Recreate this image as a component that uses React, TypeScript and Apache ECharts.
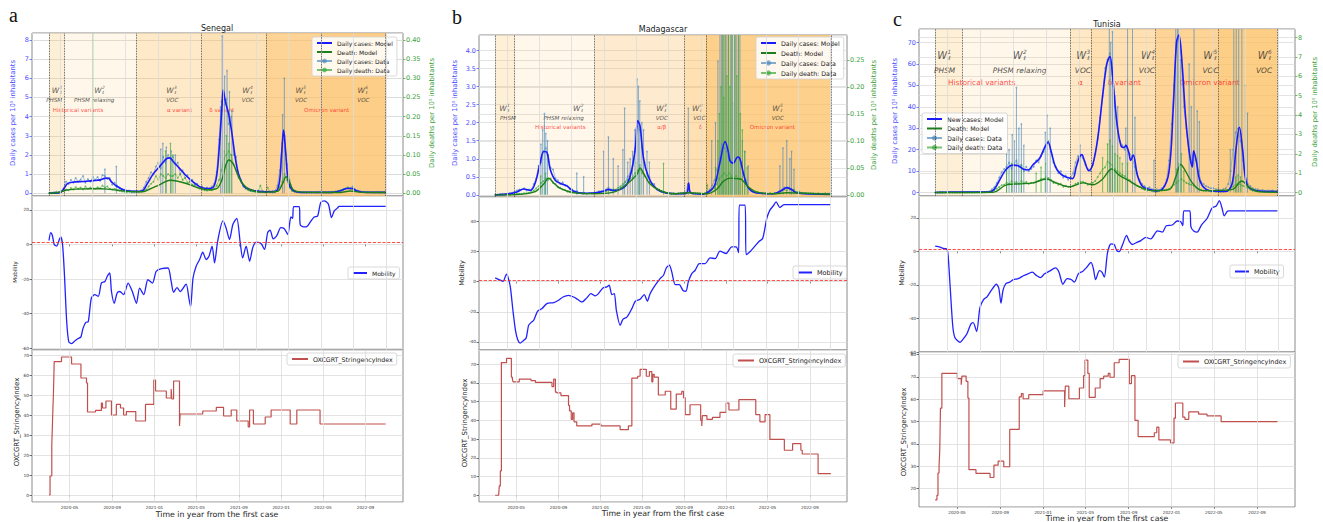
import React, { useEffect, useRef } from "react";
import * as echarts from "echarts";

// ---------------- shared axis data ----------------
const X_MIN = 13;
const X_MAX = 1082;
const TICK_DAYS = [121, 244, 366, 486, 609, 731, 851, 974];
const TICK_LABELS = ["2020-05", "2020-09", "2021-01", "2021-05", "2021-09", "2022-01", "2022-05", "2022-09"];
const GRID_DAYS = [94, 188, 282, 376, 470, 564, 658, 752, 846, 940, 1034];
const STEP = 7;

// ---------------- Senegal ----------------
const senStart = 62;
const senCasesData = [
  0, 0.03, 0.06, 0.08, 0.05, 0.12, 0.25, 0.62, 0.48, 0.7,
  0.55, 0.8, 0.6, 0.72, 0.9, 0.55, 0.75, 0.6, 0.85, 0.7,
  0.85, 0.65, 0.95, 0.9, 0.75, 0.8, 0.45, 0.55, 0.4, 0.3,
  0.2, 0.18, 0.12, 0.15, 0.08, 0.1, 0.12, 0.08, 0.15, 0.3,
  0.6, 0.8, 1.1, 1.0, 1.4, 1.6, 1.3, 1.9, 1.6, 2.0,
  1.8, 1.9, 1.5, 1.6, 1.0, 1.2, 0.8, 0.95, 0.6, 0.7,
  0.45, 0.5, 0.3, 0.35, 0.2, 0.3, 0.22, 0.35, 0.5, 1.1,
  2.8, 4.8, 4.6, 4.9, 3.6, 4.0, 2.0, 1.9, 0.9, 0.7,
  0.35, 0.3, 0.25, 0.12, 0.15, 0.08, 0.1, 0.06, 0.1, 0.05,
  0.08, 0.06, 0.1, 0.12, 0.4, 1.2, 2.6, 3.0, 1.5, 0.7,
  0.25, 0.12, 0.08, 0.06, 0.05, 0.04, 0.05, 0.04, 0.05, 0.04,
  0.05, 0.05, 0.06, 0.05, 0.06, 0.05, 0.06, 0.07, 0.08, 0.1,
  0.15, 0.2, 0.25, 0.3, 0.28, 0.35, 0.2, 0.15, 0.1, 0.08,
  0.06, 0.07, 0.05, 0.06, 0.05, 0.06, 0.05, 0.06, 0.05,
];
const senCasesSpikes = [
  [223, 1.25], [256, 1.4], [384, 2.3], [390, 2.6], [400, 2.4], [414, 2.2], [426, 2.0], [556, 4.5], [561, 8.2],
  [568, 6.1], [575, 6.4], [582, 5.3], [589, 4.3], [735, 4.1], [740, 6.0],
];
const senDeathData = [
  0, 0, 0.001, 0.002, 0.003, 0.004, 0.006, 0.01, 0.008, 0.014,
  0.01, 0.016, 0.012, 0.015, 0.01, 0.018, 0.012, 0.015, 0.013, 0.012,
  0.016, 0.013, 0.02, 0.015, 0.018, 0.012, 0.01, 0.012, 0.008, 0.007,
  0.005, 0.004, 0.003, 0.004, 0.003, 0.003, 0.004, 0.003, 0.004, 0.006,
  0.01, 0.018, 0.025, 0.03, 0.045, 0.035, 0.05, 0.045, 0.04, 0.05,
  0.045, 0.045, 0.05, 0.04, 0.05, 0.035, 0.04, 0.028, 0.03, 0.022,
  0.02, 0.015, 0.012, 0.01, 0.008, 0.007, 0.009, 0.008, 0.012, 0.02,
  0.035, 0.06, 0.09, 0.1, 0.11, 0.1, 0.075, 0.06, 0.04, 0.03,
  0.02, 0.012, 0.008, 0.006, 0.005, 0.004, 0.004, 0.02, 0.003, 0.003,
  0.015, 0.003, 0.002, 0.003, 0.006, 0.015, 0.03, 0.05, 0.035, 0.015,
  0.006, 0.004, 0.003, 0.003, 0.002, 0.003, 0.002, 0.003, 0.002, 0.003,
  0.002, 0.003, 0.002, 0.003, 0.002, 0.003, 0.003, 0.004, 0.005, 0.006,
  0.008, 0.01, 0.012, 0.015, 0.012, 0.01, 0.008, 0.006, 0.004, 0.003,
  0.003, 0.002, 0.003, 0.002, 0.002, 0.003, 0.002, 0.002, 0.002,
];
const senDeathSpikes = [[188, 0.6], [398, 0.11], [412, 0.13], [419, 0.1], [566, 0.11], [573, 0.15], [580, 0.13], [587, 0.1]];
const senCasesModel = [
  [62, 0], [95, 0.05], [105, 0.25], [115, 0.5], [130, 0.58], [160, 0.62], [190, 0.66], [210, 0.7], [222, 0.78],
  [232, 0.8], [242, 0.6], [256, 0.38], [280, 0.16], [310, 0.1], [330, 0.12], [345, 0.5], [362, 1.0], [381, 1.4],
  [400, 1.8], [410, 1.85], [420, 1.65], [438, 1.3], [458, 0.9], [477, 0.6], [496, 0.35], [515, 0.25], [534, 0.3],
  [545, 0.9], [553, 2.5], [560, 4.4], [564, 5.4], [570, 4.8], [580, 4.1], [590, 3.0], [600, 1.7], [610, 0.9],
  [625, 0.35], [650, 0.15], [687, 0.08], [715, 0.1], [726, 0.6], [732, 2.0], [738, 3.3], [744, 2.1], [752, 0.6],
  [765, 0.15], [790, 0.05], [880, 0.05], [905, 0.15], [920, 0.25], [936, 0.25], [950, 0.12], [975, 0.05], [1032, 0.05],
];
const senDeathModel = [
  [62, 0], [90, 0.002], [110, 0.008], [140, 0.011], [180, 0.012], [210, 0.012], [230, 0.011], [260, 0.008],
  [290, 0.005], [330, 0.004], [350, 0.01], [380, 0.022], [410, 0.034], [430, 0.032], [460, 0.025], [490, 0.015],
  [520, 0.009], [545, 0.012], [560, 0.035], [572, 0.075], [580, 0.087], [592, 0.078], [605, 0.05], [620, 0.025],
  [640, 0.01], [680, 0.003], [720, 0.005], [735, 0.025], [745, 0.043], [755, 0.03], [765, 0.01], [790, 0.003],
  [900, 0.002], [930, 0.006], [960, 0.003], [1032, 0.002],
];
const senMobility = [
  [62, 2.3], [67, 6.8], [72, 4.9], [77, 0], [84, -1], [92, 3], [96, 4.3], [101, 0], [106, -15.5], [113, -44.7],
  [119, -56.3], [127, -57.3], [137, -55.7], [146, -54.4], [154, -53.4], [160, -48.5], [168, -45], [175, -44.7],
  [184, -31], [194, -29], [204, -30], [213, -22.3], [223, -21.4], [230, -18.4], [237, -16.5], [242, -27.2],
  [250, -34], [258, -28.2], [266, -27.2], [277, -29], [290, -22.3], [302, -27.2], [314, -34], [323, -25.2],
  [335, -29], [347, -20.4], [360, -22.3], [371, -15.5], [386, -14], [405, -13.6], [414, -21.4], [421, -27.6],
  [431, -24.9], [440, -27.2], [457, -22.9], [465, -31], [470, -36], [477, -19.4], [486, -12.6], [496, -8.7],
  [505, -4.5], [515, -8.7], [523, -6.8], [532, -1], [539, -10.7], [548, 1.9], [563, 13.6], [572, 9.7], [582, 2.9],
  [592, 11.7], [603, 15.1], [613, 1], [620, -7.8], [630, -1], [640, -9.7], [649, -1.9], [659, 1.4], [673, 0.6],
  [683, -2.9], [692, 6.8], [699, 8.3], [708, 3.3], [718, 4.9], [730, 9.7], [740, 9.1], [750, 5.8], [759, 15.9],
  [764, 15.1], [767, 21.9], [783, 21.9], [786, 11.3], [798, 10.1], [807, 10.7], [817, 13.6], [826, 15.9],
  [836, 16.5], [845, 24.3], [855, 25.2], [867, 23.3], [876, 15.5], [884, 19.4], [893, 21], [898, 22], [1032, 22],
];
const senStringency = [
  [62, 0], [65, 9.5], [70, 25], [72, 36], [73, 42], [75, 52], [77, 66.7], [98, 69], [127, 65.5], [154, 58.5],
  [170, 56], [173, 41.5], [196, 42.3], [213, 46], [216, 43.5], [226, 47], [242, 40], [256, 45.3], [268, 43.5],
  [277, 40], [285, 41.7], [312, 37], [340, 45.3], [364, 57.5], [369, 52], [400, 48.5], [414, 53], [416, 48],
  [421, 57], [438, 34.5], [440, 40.5], [505, 42], [544, 43.8], [565, 39.5], [587, 42.5], [603, 37], [636, 34],
  [640, 42.5], [651, 35.5], [685, 39], [702, 42.5], [757, 35.5], [776, 42.5], [843, 35.5], [1032, 35.5],
];
const senWaves = [62, 105, 314, 502, 687, 847, 1032];
const senWaveNums = [[86, 1], [208, 2], [416, 3], [635, 4], [788, 5], [967, 6]];
const senPolicy = [[77, "PHSM"], [192, "PHSM relaxing"], [417, "VOC"], [635, "VOC"], [788, "VOC"], [968, "VOC"]];
const senVariants = [[146, "Historical variants"], [438, "α variant"], [560, "δ variant"], [862, "Omicron variant"]];

// ---------------- Madagascar ----------------
const madStart = 60;
const madCasesData = [
  0, 0, 0.02, 0.03, 0.02, 0.03, 0.05, 0.06, 0.08, 0.12,
  0.15, 0.15, 0.18, 0.12, 0.15, 0.15, 0.3, 0.45, 0.8, 0.9,
  1.2, 1.3, 1.1, 0.75, 0.7, 0.45, 0.4, 0.3, 0.35, 0.25,
  0.25, 0.15, 0.15, 0.1, 0.1, 0.05, 0.06, 0.05, 0.03, 0.05,
  0.05, 0.06, 0.05, 0.1, 0.1, 0.12, 0.15, 0.2, 0.15, 0.15,
  0.12, 0.15, 0.2, 0.25, 0.35, 0.5, 0.6, 0.8, 1.2, 1.9,
  1.8, 1.3, 0.9, 0.6, 0.5, 0.3, 0.3, 0.15, 0.15, 0.1,
  0.08, 0.05, 0.05, 0.04, 0.05, 0.03, 0.04, 0.03, 0.05, 0.05,
  0.3, 0.08, 0.05, 0.03, 0.04, 0.02, 0.03, 0.04, 0.08, 0.15,
  0.25, 0.4, 0.7, 1.0, 1.4, 1.3, 1.2, 0.95, 0.9, 0.9,
  1.0, 1.05, 0.9, 0.6, 0.4, 0.2, 0.12, 0.08, 0.06, 0.05,
  0.05, 0.04, 0.04, 0.03, 0.04, 0.03, 0.05, 0.06, 0.1, 0.15,
  0.2, 0.2, 0.2, 0.15, 0.1, 0.08, 0.06, 0.05, 0.05, 0.04,
  0.04, 0.03, 0.04, 0.03, 0.03, 0.02, 0.03, 0.02, 0.03, 0.04,
];
const madCasesSpikes = [
  [193, 1.4], [198, 1.8], [203, 2.25], [207, 1.7], [212, 1.5], [297, 0.6], [317, 0.5], [375, 1.2], [389, 1.6],
  [403, 1.0], [417, 0.8], [431, 1.25], [436, 2.4], [445, 0.9], [452, 1.0], [459, 1.2], [466, 1.8], [472, 3.2],
  [476, 3.0], [480, 2.6], [486, 2.0], [491, 1.8], [501, 1.2], [508, 0.9], [621, 2.4], [689, 1.5], [700, 2.0],
  [707, 3.7], [713, 6], [718, 6], [723, 6], [728, 6], [733, 6], [738, 6], [744, 6], [749, 6], [755, 6], [760, 6],
  [766, 6], [771, 6], [778, 1.5], [785, 1.2], [795, 0.8], [887, 0.8], [896, 1.3], [907, 1.5], [916, 1.0],
  [921, 1.2], [928, 0.7],
];
const madDeathData = [
  0, 0, 0, 0, 0, 0.001, 0, 0.002, 0.001, 0.002,
  0.002, 0.002, 0.003, 0.003, 0.004, 0.005, 0.008, 0.012, 0.016, 0.022,
  0.025, 0.03, 0.028, 0.03, 0.022, 0.02, 0.014, 0.013, 0.01, 0.009,
  0.006, 0.005, 0.004, 0.004, 0.003, 0.003, 0.002, 0.003, 0.002, 0.003,
  0.003, 0.003, 0.004, 0.004, 0.005, 0.006, 0.006, 0.008, 0.008, 0.01,
  0.01, 0.013, 0.016, 0.02, 0.024, 0.028, 0.03, 0.032, 0.04, 0.045,
  0.048, 0.04, 0.035, 0.028, 0.022, 0.018, 0.014, 0.011, 0.009, 0.006,
  0.005, 0.004, 0.003, 0.002, 0.003, 0.002, 0.002, 0.003, 0.002, 0.003,
  0.004, 0.004, 0.002, 0.003, 0.002, 0.003, 0.002, 0.003, 0.005, 0.005,
  0.01, 0.012, 0.02, 0.03, 0.035, 0.04, 0.035, 0.04, 0.035, 0.03,
  0.035, 0.03, 0.03, 0.025, 0.02, 0.015, 0.01, 0.008, 0.006, 0.005,
  0.004, 0.003, 0.003, 0.002, 0.003, 0.002, 0.003, 0.004, 0.006, 0.008,
  0.01, 0.008, 0.012, 0.008, 0.01, 0.005, 0.006, 0.004, 0.003, 0.003,
  0.002, 0.003, 0.002, 0.002, 0.003, 0.002, 0.002, 0.003, 0.002, 0.002,
];
const madDeathSpikes = [
  [192, 0.035], [206, 0.04], [470, 0.06], [480, 0.055], [549, 0.058], [676, 0.018], [700, 0.05], [707, 0.1],
  [711, 0.15], [716, 0.2], [720, 0.35], [724, 0.18], [728, 0.35], [733, 0.22], [738, 0.35], [742, 0.2],
  [747, 0.35], [752, 0.17], [757, 0.35], [762, 0.22], [767, 0.35], [772, 0.15], [778, 0.12], [785, 0.08], [792, 0.05],
];
const madCasesModel = [
  [60, 0], [94, 0.02], [123, 0.08], [143, 0.16], [162, 0.12], [177, 0.35], [191, 0.9], [201, 1.2], [210, 1.18],
  [220, 0.7], [235, 0.4], [254, 0.3], [268, 0.25], [288, 0.1], [317, 0.04], [346, 0.05], [375, 0.1], [389, 0.15],
  [404, 0.12], [423, 0.15], [443, 0.3], [457, 0.7], [467, 1.3], [474, 2.05], [481, 1.9], [491, 1.0], [505, 0.5],
  [520, 0.25], [539, 0.1], [578, 0.03], [615, 0.04], [622, 0.33], [628, 0.05], [665, 0.02], [689, 0.15],
  [699, 0.3], [713, 0.9], [728, 1.48], [737, 1.2], [742, 0.95], [752, 0.88], [764, 1.05], [771, 1.0], [781, 0.6],
  [795, 0.2], [820, 0.05], [868, 0.03], [892, 0.12], [907, 0.2], [921, 0.15], [936, 0.05], [1035, 0.01],
];
const madDeathModel = [
  [60, 0], [94, 0], [172, 0.005], [201, 0.02], [215, 0.031], [230, 0.022], [249, 0.012], [288, 0.004],
  [346, 0.002], [404, 0.005], [443, 0.02], [472, 0.038], [481, 0.05], [491, 0.04], [510, 0.02], [539, 0.008],
  [578, 0.002], [622, 0.004], [674, 0.002], [703, 0.01], [723, 0.025], [742, 0.031], [762, 0.03], [776, 0.028],
  [795, 0.015], [820, 0.005], [868, 0.002], [907, 0.004], [1035, 0.001],
];
const madMobility = [
  [60, 2.4], [75, 0.9], [83, 0.2], [93, 4.9], [97, 3.1], [104, -3.5], [112, -20], [119, -32.3], [126, -38.9],
  [133, -40.7], [141, -39.3], [150, -37.3], [157, -29], [164, -27.2], [172, -25.6], [183, -19.7], [196, -17.9],
  [210, -14.6], [230, -13.9], [244, -12.4], [257, -10.2], [273, -9.1], [288, -10.2], [299, -11.7], [312, -13.5],
  [326, -10.8], [338, -8], [351, -9.5], [360, -8], [373, -4.2], [384, -3.5], [391, -2.4], [399, -8.6], [406, -8],
  [412, -19], [423, -29], [431, -25], [443, -23.4], [457, -17.9], [467, -13], [481, -11.7], [493, -8.6],
  [502, -13], [510, -8], [525, -2.4], [539, 2], [549, 4.2], [557, 9], [566, 10.8], [573, 6.4], [583, -2],
  [595, -2], [605, -5.7], [614, -6.4], [621, -0.2], [631, 5.3], [641, 7.5], [653, 11.9], [670, 11.9], [684, 15.7],
  [699, 15.2], [713, 20.1], [731, 18.6], [747, 23], [760, 23], [767, 19.2], [769, 50.6], [786, 50.6], [789, 17.9],
  [800, 19.7], [815, 23.6], [827, 26.7], [837, 28.5], [849, 41.8], [858, 47.3], [868, 50.2], [876, 52.8],
  [887, 49], [899, 51], [1035, 51],
];
const madStringency = [
  [60, 0], [70, 0], [72, 5], [75, 13], [78, 70.8], [93, 73], [107, 63], [110, 62], [112, 60.5], [130, 62],
  [164, 61.2], [177, 60.2], [225, 58], [230, 62], [235, 55], [239, 54.6], [251, 53.2], [273, 48], [276, 45],
  [281, 40.5], [285, 44], [289, 39.2], [297, 37], [341, 38], [367, 37], [423, 35], [447, 37], [457, 62.5],
  [474, 63.5], [481, 67.2], [499, 63.5], [508, 66], [515, 60.5], [518, 64.5], [522, 63], [534, 53.5], [554, 55.5],
  [570, 46], [586, 54], [602, 55.5], [607, 52], [612, 43], [626, 48.3], [657, 40], [660, 37], [662, 42.5],
  [675, 40.5], [691, 41.5], [713, 44.2], [731, 49.2], [739, 45.5], [768, 51], [817, 43], [829, 39.2], [844, 43],
  [858, 29.8], [900, 24], [924, 27.5], [948, 24], [952, 22], [998, 11.5], [1035, 11.5],
];
const madWaves = [60, 116, 349, 610, 672, 1035];
const madWaveNums = [[88, 1], [302, 2], [544, 3], [648, 4], [881, 5]];
const madPolicy = [[97, "PHSM"], [259, "PHSM relaxing"], [544, "VOC"], [653, "VOC"], [881, "VOC"]];
const madVariants = [[249, "Historical variants"], [544, "α/β"], [657, "δ"], [865, "Omicron variant"]];

// ---------------- Tunisia ----------------
const tunStart = 59;
const tunCasesData = [
  0, 0.1, 0.2, 0.2, 0.1, 0.05, 0.05, 0.1, 0.05, 0.1,
  0.1, 0.15, 0.1, 0.15, 0.2, 0.1, 0.2, 0.25, 0.2, 0.3,
  0.3, 0.4, 0.5, 1.5, 2.5, 4.5, 7, 9.5, 11, 12,
  14, 11, 13, 15, 12, 13, 10, 12, 10, 11,
  12, 15, 14, 17, 19, 22, 24, 19, 14, 12,
  9, 10, 7, 8, 6, 7, 9, 14, 17, 17,
  16, 13, 11, 10, 13, 18, 25, 35, 45, 58,
  62, 65, 55, 40, 30, 24, 22, 20, 21, 18,
  17, 12, 9, 6, 4, 3, 2, 2.5, 1.5, 1,
  1.5, 1.2, 2, 3, 6, 15, 32, 50, 68, 72,
  62, 40, 30, 20, 14, 19, 15, 10, 5, 4,
  3, 2.5, 2, 2, 1.5, 1.5, 1, 1.5, 2, 4,
  10, 20, 28, 30, 24, 15, 8, 4, 3, 2,
  1.5, 1.5, 1, 1.2, 0.8, 1, 0.8, 1, 0.5, 0.8,
];
const tunCasesSpikes = [
  [262, 18], [269, 20], [278, 27], [284, 24], [290, 49], [297, 30], [304, 32], [311, 22], [372, 28], [377, 36],
  [386, 30], [471, 22], [554, 85], [558, 70], [563, 75], [570, 45], [578, 40], [601, 30], [606, 85], [620, 85],
  [627, 35], [681, 15], [743, 85], [748, 85], [752, 85], [757, 62], [781, 60], [787, 40], [795, 85], [804, 38],
  [810, 33], [898, 20], [908, 85], [915, 85], [922, 85], [931, 85], [941, 50], [947, 37],
];
const tunDeathData = [
  0, 0, 0, 0.01, 0, 0, 0, 0, 0, 0,
  0, 0, 0, 0, 0, 0.01, 0, 0.01, 0.02, 0.01,
  0.02, 0.03, 0.05, 0.08, 0.12, 0.2, 0.28, 0.38, 0.4, 0.5,
  0.45, 0.6, 0.5, 0.55, 0.45, 0.6, 0.5, 0.55, 0.45, 0.5,
  0.5, 0.55, 0.6, 0.7, 0.7, 0.8, 0.75, 0.65, 0.5, 0.5,
  0.4, 0.45, 0.3, 0.35, 0.3, 0.3, 0.35, 0.45, 0.5, 0.55,
  0.55, 0.5, 0.4, 0.45, 0.5, 0.6, 0.8, 1.0, 1.2, 1.3,
  1.6, 1.5, 1.4, 1.2, 1.1, 1.0, 0.9, 0.85, 0.7, 0.65,
  0.5, 0.45, 0.35, 0.3, 0.2, 0.15, 0.1, 0.12, 0.08, 0.1,
  0.05, 0.08, 0.1, 0.12, 0.15, 0.2, 0.3, 0.4, 0.5, 0.6,
  0.7, 0.6, 0.5, 0.45, 0.4, 0.35, 0.25, 0.2, 0.15, 0.1,
  0.08, 0.1, 0.06, 0.08, 0.05, 0.06, 0.05, 0.06, 0.08, 0.1,
  0.2, 0.3, 0.4, 0.45, 0.4, 0.35, 0.3, 0.25, 0.15, 0.1,
  0.08, 0.06, 0.05, 0.04, 0.03, 0.03, 0.02, 0.03, 0.02, 0.02,
];
const tunDeathSpikes = [
  [262, 1.2], [276, 1.5], [304, 1.4], [346, 1.0], [360, 1.3], [374, 1.5], [535, 1.8], [549, 2.5], [556, 2.7],
  [563, 2.4], [570, 2.0], [577, 1.9], [584, 1.8], [591, 1.5], [606, 1.5], [745, 1.2], [752, 1.5], [759, 2.0],
  [766, 1.1], [913, 0.8], [920, 0.9], [927, 0.8],
];
const tunCasesModel = [
  [59, 0], [92, 0.2], [215, 0.3], [229, 2], [243, 6], [257, 10], [271, 12.3], [281, 12.8], [295, 12.5],
  [309, 11], [323, 10.5], [337, 13], [356, 16], [370, 21], [380, 23.5], [389, 19], [401, 12], [417, 8.5],
  [436, 7], [450, 6.5], [460, 12], [469, 16.5], [476, 17.7], [483, 15], [496, 10.2], [507, 13], [521, 25],
  [535, 45], [547, 60], [556, 63.5], [563, 55], [576, 32], [587, 22], [596, 21], [601, 22], [609, 19],
  [615, 15], [622, 17.5], [634, 8], [648, 3], [667, 1.5], [686, 0.8], [705, 1.5], [724, 10], [736, 40],
  [745, 70], [752, 73.5], [761, 60], [771, 35], [782, 18], [790, 12], [794, 19.5], [801, 15], [813, 5],
  [837, 1], [884, 0.5], [903, 4], [914, 20], [924, 30.5], [933, 20], [945, 4], [969, 1], [1032, 0.5],
];
const tunDeathModel = [
  [59, 0], [224, 0.02], [262, 0.4], [300, 0.45], [337, 0.5], [375, 0.7], [403, 0.5], [441, 0.3], [479, 0.5],
  [507, 0.4], [535, 0.7], [561, 1.22], [582, 0.9], [611, 0.6], [639, 0.3], [677, 0.1], [724, 0.15], [743, 0.8],
  [757, 1.45], [771, 1.1], [790, 0.5], [818, 0.1], [903, 0.15], [931, 0.6], [950, 0.3], [978, 0.05], [1032, 0.02],
];
const tunMobility = [
  [59, 3.1], [73, 2.5], [83, 1.7], [90, 1.6], [95, -0.8], [101, -19.2], [109, -44.5], [115, -51.3], [130, -54.2],
  [139, -52.2], [149, -49.3], [160, -43.5], [167, -42.5], [177, -47.8], [186, -33.8], [196, -28.9], [207, -27],
  [219, -23.1], [233, -19.6], [240, -22.1], [246, -30.9], [252, -23.1], [260, -19.2], [271, -18.3], [281, -16.9],
  [295, -16.3], [311, -14.4], [323, -13.4], [335, -12.4], [347, -14.4], [358, -15.7], [370, -13.4], [384, -11.8],
  [401, -9.9], [411, -12.4], [422, -19.6], [434, -16.3], [446, -16.9], [455, -18.3], [466, -13.4], [479, -11.8],
  [490, -9.5], [502, -6.6], [509, -10.5], [515, -16.9], [526, -11.5], [533, -12.4], [540, -15.3], [549, -0.8],
  [559, 4.5], [568, 4.1], [575, 0.6], [582, -0.2], [592, 4.1], [603, 9.5], [611, 6], [620, 4.1], [629, 5],
  [644, 6.4], [658, 8.3], [672, 7.4], [691, 12.2], [705, 11.5], [716, 15.3], [733, 15.7], [747, 18.1], [757, 17.7],
  [763, 15.3], [766, 24.1], [783, 24.1], [786, 14.8], [794, 12.2], [804, 11.5], [816, 15.7], [832, 19.6],
  [846, 25.8], [858, 27], [867, 30.3], [875, 25.4], [881, 21.2], [892, 24.1], [1032, 24.1],
];
const tunStringency = [
  [59, 15], [64, 17], [67, 27], [70, 30], [72, 37], [74, 56], [78, 71.5], [122, 69.2], [133, 66.5], [135, 70.3],
  [147, 68], [152, 60.5], [155, 28.5], [175, 26.8], [215, 25], [226, 30.5], [238, 32.3], [254, 29.8], [271, 46.5],
  [298, 61], [304, 62.5], [309, 60.2], [325, 62], [366, 63.7], [427, 56.5], [429, 65.8], [439, 60.2], [469, 65],
  [481, 70.5], [485, 77.5], [493, 71.5], [497, 60.8], [514, 65], [528, 69.2], [538, 70.3], [551, 71.5],
  [556, 69.8], [568, 76.3], [582, 77.8], [611, 67], [617, 70.5], [627, 50.5], [636, 43.3], [682, 45], [689, 47.5],
  [695, 41.8], [728, 40.5], [738, 51.5], [742, 58.3], [763, 52], [769, 51], [780, 54.3], [808, 53.3], [832, 52.5],
  [872, 50], [1032, 50],
];
const tunWaves = [59, 135, 443, 502, 686, 865, 1032];
const tunWaveNums = [[86, 1], [300, 2], [481, 3], [665, 4], [842, 5], [997, 6]];
const tunPolicy = [[86, "PHSM"], [299, "PHSM relaxing"], [479, "VOC"], [661, "VOC"], [842, "VOC"], [994, "VOC"]];
const tunVariants = [[191, "Historical variants"], [472, "α"], [597, "δ variant"], [839, "Omicron variant"]];

// ---------------- styles ----------------
const FONT = "DejaVu Sans";
const FRAME = "#8a8a8a";
const GRIDC = "#dcdcdc";
const BLUE = "#1a1aff";
const GREEN = "#1c7f1c";
const AX_BLUE = "#4a4aff";
const AX_GREEN = "#3a9f3a";
const DATA_BLUE = "rgba(80,140,190,0.7)";
const DATA_GREEN = "rgba(60,170,60,0.7)";
const MOB = "#2222ff";
const STR = "#c0504d";

const PANELS = [
  {
    letter: "a", country: "Senegal", casesName: "Daily cases: Model",
    start: senStart, casesData: senCasesData, deathData: senDeathData, casesSpikes: senCasesSpikes, deathSpikes: senDeathSpikes,
    casesModel: senCasesModel, deathModel: senDeathModel,
    mobility: senMobility, stringency: senStringency, waves: senWaves, waveNums: senWaveNums, policy: senPolicy, variants: senVariants,
    L: {
      left: 32, width: 371, top: 33, midTop: 196, botTop: 350, bottom: 502,
      yTop: [-0.14, 8.36], ytSplit: 8, yRight: [-0.007, 0.418], yrSplit: 8, yMid: [-61, 28], ymSplit: 4, ymShowMin: false,
      yBot: [-3.5, 72.5], ybSplit: 7, leftDec: 0, rightDec: 2,
      shades: [0.25, 0.13, 0.34, 0.45, 0.66, 0.75], frac: [0.65, 0.589, 0.528], ts: 1,
      lgTop: { left: 312, top: 37, gap: 3, ih: 6, fs: 6 }, lgMob: { left: 348, top: 267, fs: 6 }, lgStr: { left: 287, top: 353, fs: 6.3 },
      letterPos: [13.5, 15.3], titlePos: [217, 28], yLPos: [13, 113], yRPos: [432, 113], mobPos: [15, 272], mobFs: 5.5,
      strPos: [17, 422], xNamePos: [217, 514],
    },
  },
  {
    letter: "b", country: "Madagascar", casesName: "Daily cases: Model",
    start: madStart, casesData: madCasesData, deathData: madDeathData, casesSpikes: madCasesSpikes, deathSpikes: madDeathSpikes,
    casesModel: madCasesModel, deathModel: madDeathModel,
    mobility: madMobility, stringency: madStringency, waves: madWaves, waveNums: madWaveNums, policy: madPolicy, variants: madVariants,
    L: {
      left: 479, width: 368, top: 35, midTop: 197, botTop: 350, bottom: 502,
      yTop: [-0.06, 4.43], ytSplit: 8, yRight: [-0.004, 0.296], yrSplit: 6, yMid: [-45.3, 56], ymSplit: 5, ymShowMin: false,
      yBot: [-3.6, 77.5], ybSplit: 8, leftDec: 1, rightDec: 2,
      shades: [0.25, 0.13, 0.3, 0.48, 0.72], frac: [0.549, 0.488, 0.432], ts: 1,
      lgTop: { left: 756, top: 37, gap: 4, ih: 6.5, fs: 6.3 }, lgMob: { left: 793, top: 266, fs: 6.5 }, lgStr: { left: 733, top: 354, fs: 6.5 },
      letterPos: [457, 17.3], titlePos: [663, 29], yLPos: [455, 113], yRPos: [874, 115], mobPos: [462, 273], mobFs: 6.5,
      strPos: [465, 423], xNamePos: [663, 513],
    },
  },
  {
    letter: "c", country: "Tunisia", casesName: "New cases: Model",
    start: tunStart, casesData: tunCasesData, deathData: tunDeathData, casesSpikes: tunCasesSpikes, deathSpikes: tunDeathSpikes,
    casesModel: tunCasesModel, deathModel: tunDeathModel,
    mobility: tunMobility, stringency: tunStringency, waves: tunWaves, waveNums: tunWaveNums, policy: tunPolicy, variants: tunVariants,
    L: {
      left: 919, width: 376, top: 29, midTop: 196, botTop: 352, bottom: 507,
      yTop: [-1.6, 76.3], ytSplit: 8, yRight: [-0.177, 8.44], yrSplit: 8, yMid: [-60, 33], ymSplit: 4, ymShowMin: true,
      yBot: [11.8, 81.1], ybSplit: 7, leftDec: 0, rightDec: 0,
      shades: [0.25, 0.13, 0.36, 0.48, 0.66, 0.76], frac: [0.844, 0.754, 0.677], ts: 1.33,
      lgTop: { left: 922, top: 113, gap: 3.5, ih: 6.5, fs: 6.3 }, lgMob: { left: 1230, top: 265, fs: 6.5 }, lgStr: { left: 1178, top: 355, fs: 6.5 },
      letterPos: [897.5, 19.3], titlePos: [1107, 24], yLPos: [895, 111], yRPos: [1315, 112], mobPos: [902, 273], mobFs: 6.5,
      strPos: [904, 432], xNamePos: [1107, 518],
    },
  },
];

function stepSeries(start: number, arr: number[]) {
  return arr.map((v, i) => [start + STEP * i, v]);
}

function yAx(gridIndex: number, range: number[], split: number, color: string, fs: number, pos: string, dec: number | null, showMin = false) {
  return {
    gridIndex, type: "value", min: range[0], max: range[1], splitNumber: split, position: pos,
    axisLine: { show: false },
    axisTick: { show: true, length: 2.5, lineStyle: { color, width: 0.7 } },
    axisLabel: {
      color, fontSize: fs, fontFamily: FONT, margin: 3, showMinLabel: showMin, showMaxLabel: false,
      formatter: dec === null ? undefined : (v: number) => v.toFixed(dec),
    },
    splitLine: { show: true, lineStyle: { color: GRIDC, width: 0.8 } },
  };
}

function vLines(days: number[], color: string, type: any, width: number) {
  return days.map((d) => ({ xAxis: d, lineStyle: { color, type, width } }));
}

function txt(text: string, x: number, y: number, fs: number, color: string, rot = 0, family = FONT) {
  return {
    type: "text", x, y, rotation: rot, silent: true, z: 50,
    style: { text, fontSize: fs, fontFamily: family, fill: color, align: "center", verticalAlign: "middle" },
  };
}

function legendBox(left: number, top: number, items: any[], fs: number, ih: number, gap: number, iw: number) {
  return {
    left, top, orient: "vertical", data: items, itemWidth: iw, itemHeight: ih, itemGap: gap,
    selectedMode: false, padding: [3, 4, 3, 4],
    textStyle: { fontSize: fs, color: "#222", fontFamily: FONT },
    backgroundColor: "rgba(255,255,255,0.85)", borderColor: "#cfcfcf", borderWidth: 0.8, borderRadius: 2,
  };
}

const lineOnly = (name: string) => ({ name, itemStyle: { opacity: 0 } });

function buildOption() {
  const grid: any[] = [];
  const xAxis: any[] = [];
  const yAxis: any[] = [];
  const series: any[] = [];
  const legend: any[] = [];
  const graphic: any[] = [];

  PANELS.forEach((p) => {
    const L: any = p.L;
    const g0 = grid.length;
    const frame = { show: true, borderColor: FRAME, borderWidth: 1, backgroundColor: "transparent" };
    grid.push({ ...frame, left: L.left, top: L.top, width: L.width, height: L.midTop - L.top });
    grid.push({ ...frame, left: L.left, top: L.midTop, width: L.width, height: L.botTop - L.midTop });
    grid.push({ ...frame, left: L.left, top: L.botTop, width: L.width, height: L.bottom - L.botTop });
    for (let k = 0; k < 3; k++) {
      xAxis.push({
        gridIndex: g0 + k, type: "value", min: X_MIN, max: X_MAX,
        axisLine: { show: false },
        splitLine: { show: false },
        axisTick: { show: k > 0, customValues: TICK_DAYS, length: 2, lineStyle: { color: "#444", width: 0.6 } },
        axisLabel: {
          show: k === 2, customValues: TICK_DAYS, fontSize: 4.2, color: "#333", margin: 3, fontFamily: FONT,
          formatter: (v: number) => {
            const i = TICK_DAYS.indexOf(v);
            return i >= 0 ? TICK_LABELS[i] : "";
          },
        },
      });
    }
    const y0 = yAxis.length;
    yAxis.push(yAx(g0, L.yTop, L.ytSplit, AX_BLUE, 6.5, "left", L.leftDec));
    yAxis.push(yAx(g0, L.yRight, L.yrSplit, AX_GREEN, 6.5, "right", L.rightDec));
    yAxis.push({ gridIndex: g0, type: "value", min: 0, max: 1, show: false, splitLine: { show: false } });
    yAxis.push(yAx(g0 + 1, L.yMid, L.ymSplit, "#333", 4.3, "left", null, L.ymShowMin));
    yAxis.push(yAx(g0 + 2, L.yBot, L.ybSplit, "#333", 4.3, "left", null));

    // ---- top: shading, grid lines, wave boundaries, annotations
    const areas: any[] = [];
    for (let i = 0; i < p.waves.length - 1; i++) {
      areas.push([
        { xAxis: p.waves[i], itemStyle: { color: `rgba(252,190,95,${L.shades[i]})` } },
        { xAxis: p.waves[i + 1] },
      ]);
    }
    const s = L.ts;
    const rich = {
      w: { fontSize: 7.5 * s, fontStyle: "italic", color: "#333", fontFamily: FONT },
      k: { fontSize: 4.4 * s, fontStyle: "italic", color: "#333", fontFamily: FONT, lineHeight: 4.4 * s },
      i: { fontSize: 5.6 * s, fontStyle: "italic", color: "#222", fontFamily: FONT },
      r: { fontSize: 5.6 * s, color: "#ff1a1a", fontFamily: FONT },
    };
    const annot: any[] = [];
    p.waveNums.forEach((w: any) => {
      annot.push({ value: [w[0], L.frac[0]], label: { formatter: "{w|W}", offset: [-1.8 * s, 0] } });
      annot.push({ value: [w[0], L.frac[0]], label: { formatter: `{k|${w[1]}}\n{k|ℓ}`, offset: [3.6 * s, 0] } });
    });
    p.policy.forEach((w: any) => annot.push({ value: [w[0], L.frac[1]], label: { formatter: `{i|${w[1]}}` } }));
    p.variants.forEach((w: any) => annot.push({ value: [w[0], L.frac[2]], label: { formatter: `{r|${w[1]}}` } }));
    series.push({
      type: "scatter", name: "", xAxisIndex: g0, yAxisIndex: y0 + 2, z: 1, silent: true, symbolSize: 0,
      data: annot,
      label: { show: true, position: "inside", rich },
      markArea: { silent: true, data: areas },
      markLine: {
        silent: true, symbol: ["none", "none"], label: { show: false },
        data: [...vLines(GRID_DAYS, GRIDC, "solid", 0.8), ...vLines(p.waves, "#333", "dotted", 0.8)],
      },
    });
    series.push({
      type: "line", name: "Daily cases: Data", xAxisIndex: g0, yAxisIndex: y0, z: 2, silent: true,
      data: stepSeries(p.start, p.casesData), symbol: "circle", symbolSize: 1.8,
      lineStyle: { width: 0.7, color: DATA_BLUE }, itemStyle: { color: DATA_BLUE },
    });
    series.push({
      type: "line", name: "Daily death: Data", xAxisIndex: g0, yAxisIndex: y0 + 1, z: 2, silent: true,
      data: stepSeries(p.start, p.deathData), symbol: "circle", symbolSize: 1.8,
      lineStyle: { width: 0.7, color: DATA_GREEN }, itemStyle: { color: DATA_GREEN },
    });
    // daily spikes drawn as stems, with a dot at their top
    series.push({
      type: "bar", name: "cases stems", xAxisIndex: g0, yAxisIndex: y0, z: 2, silent: true,
      data: p.casesSpikes, barWidth: 0.8, barGap: "-100%", itemStyle: { color: DATA_BLUE },
    });
    series.push({
      type: "bar", name: "death stems", xAxisIndex: g0, yAxisIndex: y0 + 1, z: 2, silent: true,
      data: p.deathSpikes, barWidth: 0.8, barGap: "-100%", itemStyle: { color: DATA_GREEN },
    });
    series.push({
      type: "scatter", name: "cases tops", xAxisIndex: g0, yAxisIndex: y0, z: 2, silent: true,
      data: p.casesSpikes, symbolSize: 1.8, itemStyle: { color: DATA_BLUE },
    });
    series.push({
      type: "scatter", name: "death tops", xAxisIndex: g0, yAxisIndex: y0 + 1, z: 2, silent: true,
      data: p.deathSpikes, symbolSize: 1.8, itemStyle: { color: DATA_GREEN },
    });
    series.push({
      type: "line", name: p.casesName, xAxisIndex: g0, yAxisIndex: y0, z: 3, silent: true,
      data: p.casesModel, smooth: 0.35, symbol: "none",
      lineStyle: { width: 1.6, color: BLUE }, itemStyle: { color: BLUE },
    });
    series.push({
      type: "line", name: "Death: Model", xAxisIndex: g0, yAxisIndex: y0 + 1, z: 3, silent: true,
      data: p.deathModel, smooth: 0.35, symbol: "none",
      lineStyle: { width: 1.4, color: GREEN }, itemStyle: { color: GREEN },
    });

    // ---- middle: mobility
    series.push({
      type: "line", name: "", xAxisIndex: g0 + 1, yAxisIndex: y0 + 3, z: 1, silent: true,
      data: [[X_MIN, 0]], symbol: "none", lineStyle: { opacity: 0 },
      markLine: { silent: true, symbol: ["none", "none"], label: { show: false }, data: vLines(GRID_DAYS, GRIDC, "solid", 0.8) },
    });
    series.push({
      type: "line", name: "Mobility", xAxisIndex: g0 + 1, yAxisIndex: y0 + 3, z: 3, silent: true,
      data: p.mobility, smooth: 0.25, symbol: "none",
      lineStyle: { width: 1.3, color: MOB }, itemStyle: { color: MOB },
      markLine: {
        silent: true, symbol: ["none", "none"], label: { show: false },
        data: [{ yAxis: 1, lineStyle: { color: "#ff2020", type: "dashed", width: 0.8 } }],
      },
    });

    // ---- bottom: stringency
    series.push({
      type: "line", name: "", xAxisIndex: g0 + 2, yAxisIndex: y0 + 4, z: 1, silent: true,
      data: [[X_MIN, 20]], symbol: "none", lineStyle: { opacity: 0 },
      markLine: { silent: true, symbol: ["none", "none"], label: { show: false }, data: vLines(TICK_DAYS, GRIDC, "solid", 0.8) },
    });
    series.push({
      type: "line", name: "OXCGRT_StringencyIndex", xAxisIndex: g0 + 2, yAxisIndex: y0 + 4, z: 3, silent: true,
      data: p.stringency, step: "end", symbol: "none",
      lineStyle: { width: 1.2, color: STR }, itemStyle: { color: STR },
    });

    // ---- legends
    const lt = L.lgTop;
    legend.push(legendBox(lt.left, lt.top, [lineOnly(p.casesName), lineOnly("Death: Model"), "Daily cases: Data", "Daily death: Data"], lt.fs, lt.ih, lt.gap, 15));
    legend.push(legendBox(L.lgMob.left, L.lgMob.top, [lineOnly("Mobility")], L.lgMob.fs, 5, 3, 14));
    legend.push(legendBox(L.lgStr.left, L.lgStr.top, [lineOnly("OXCGRT_StringencyIndex")], L.lgStr.fs, 6, 3, 16));

    // ---- texts
    graphic.push(txt(p.letter, L.letterPos[0], L.letterPos[1], 20, "#111", 0, "Liberation Serif"));
    graphic.push(txt(p.country, L.titlePos[0], L.titlePos[1], 8, "#222"));
    graphic.push(txt("Daily cases per 10⁵ inhabitants", L.yLPos[0], L.yLPos[1], 6.8, AX_BLUE, Math.PI / 2));
    graphic.push(txt("Daily deaths per 10⁵ inhabitants", L.yRPos[0], L.yRPos[1], 6.8, AX_GREEN, Math.PI / 2));
    graphic.push(txt("Mobility", L.mobPos[0], L.mobPos[1], L.mobFs, "#222", Math.PI / 2));
    graphic.push(txt("OXCGRT_StringencyIndex", L.strPos[0], L.strPos[1], 7, "#222", Math.PI / 2));
    graphic.push(txt("Time in year from the first case", L.xNamePos[0], L.xNamePos[1], 7.8, "#222"));
  });

  return { animation: false, backgroundColor: "#ffffff", grid, xAxis, yAxis, series, legend, graphic };
}

function App() {
  const ref = useRef<HTMLDivElement>(null);
  useEffect(() => {
    document.body.style.margin = "0";
    const chart = echarts.init(ref.current as HTMLDivElement, null, { renderer: "svg" });
    chart.setOption(buildOption() as any);
    return () => chart.dispose();
  }, []);
  return (
    <div
      ref={ref}
      style={{ position: "absolute", left: 0, top: 0, width: 1323, height: 522, background: "#fff" }}
    />
  );
}

export default App;
